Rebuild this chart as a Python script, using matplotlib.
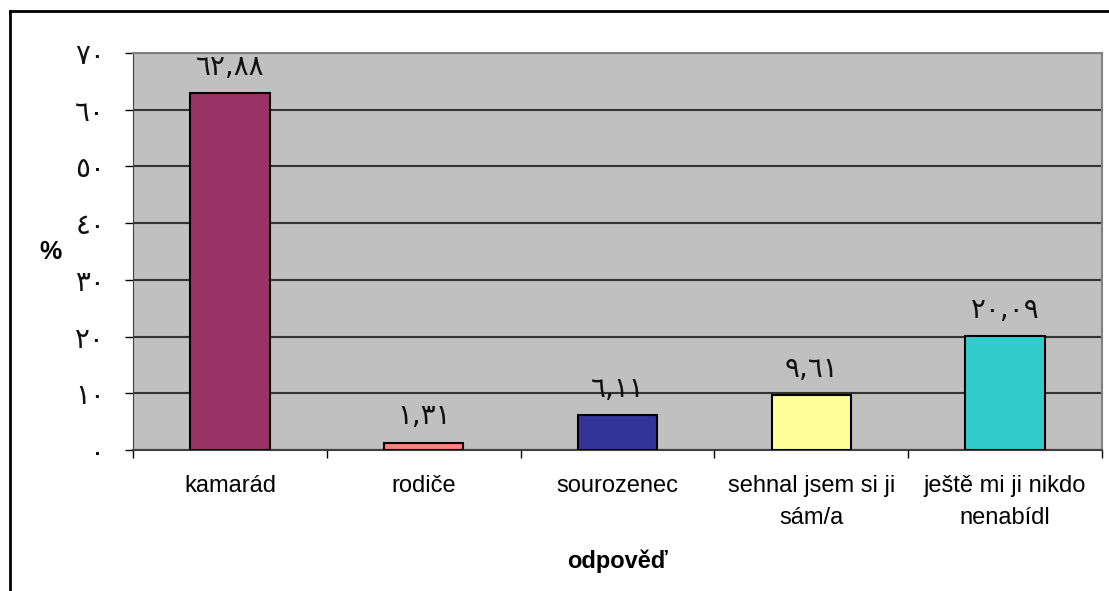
import matplotlib
matplotlib.use("Agg")
import matplotlib.pyplot as plt
from matplotlib.lines import Line2D

# data
categories = ["kamarád", "rodiče", "sourozenec", "sehnal jsem si ji\nsám/a", "ještě mi ji nikdo\nnenabídl"]
values = [62.88, 1.31, 6.11, 9.61, 20.09]
colors = ["#993366", "#FF8080", "#333399", "#FFFF99", "#33CCCC"]
yticks = [0, 10, 20, 30, 40, 50, 60, 70]

AR = str.maketrans("0123456789.", "٠١٢٣٤٥٦٧٨٩,")


def arabic(v, fmt="{:g}"):
    return fmt.format(v).translate(AR)


fig = plt.figure(figsize=(11.09, 5.91), dpi=100)
ax = fig.add_axes([133 / 1109, 1 - 450 / 591, (1102 - 133) / 1109, (450 - 53) / 591])
ax.set_facecolor("#C0C0C0")

x = list(range(len(categories)))
ax.bar(x, values, width=0.41, color=colors, edgecolor="black", linewidth=1.5, zorder=3)

for xi, v in zip(x, values):
    ax.annotate(arabic(v, "{:.2f}"), (xi, v), xytext=(0, 19), textcoords="offset points",
                ha="center", va="center", fontsize=20, family="DejaVu Sans", color="#111111")

ax.set_xlim(-0.5, len(categories) - 0.5)
ax.set_ylim(0, 70)
ax.set_yticks(yticks)
ax.set_yticklabels([arabic(t) for t in yticks], family="DejaVu Sans", fontsize=20, color="#111111")
ax.yaxis.grid(True, color="#333333", linewidth=1.5, zorder=1)
ax.set_axisbelow(True)

ax.set_xticks([i + 0.5 for i in range(-1, len(categories))], minor=False)
ax.set_xticklabels([])
ax.set_xticks(x, minor=True)
ax.set_xticklabels(categories, minor=True, family="Liberation Sans", fontsize=17, linespacing=1.6)
ax.tick_params(axis="x", which="minor", length=0, pad=18)
ax.tick_params(axis="x", which="major", length=6, width=1, color="black", direction="out")
ax.tick_params(axis="y", length=6, width=1, color="black", direction="out", pad=14)

for side in ["top", "right"]:
    ax.spines[side].set_color("#808080")
    ax.spines[side].set_linewidth(1.5)
ax.spines["left"].set_color("#404040")
ax.spines["bottom"].set_color("#404040")
ax.spines["bottom"].set_linewidth(1.5)

fig.text(50 / 1109, 1 - 252 / 591, "%", fontsize=18, fontweight="bold", family="Liberation Sans",
         ha="center", va="center")
fig.text((133 + 1102) / 2 / 1109, 1 - 561 / 591, "odpověď", fontsize=17, fontweight="bold",
         family="Liberation Sans", ha="center", va="center")

# outer chart border (only left and top visible)
fig.add_artist(Line2D([10 / 1109, 10 / 1109], [0, 1 - 11 / 591], color="black", linewidth=2,
                      transform=fig.transFigure))
fig.add_artist(Line2D([10 / 1109, 1], [1 - 11 / 591, 1 - 11 / 591], color="black", linewidth=2,
                      transform=fig.transFigure))

fig.savefig("out.png", dpi=100)
